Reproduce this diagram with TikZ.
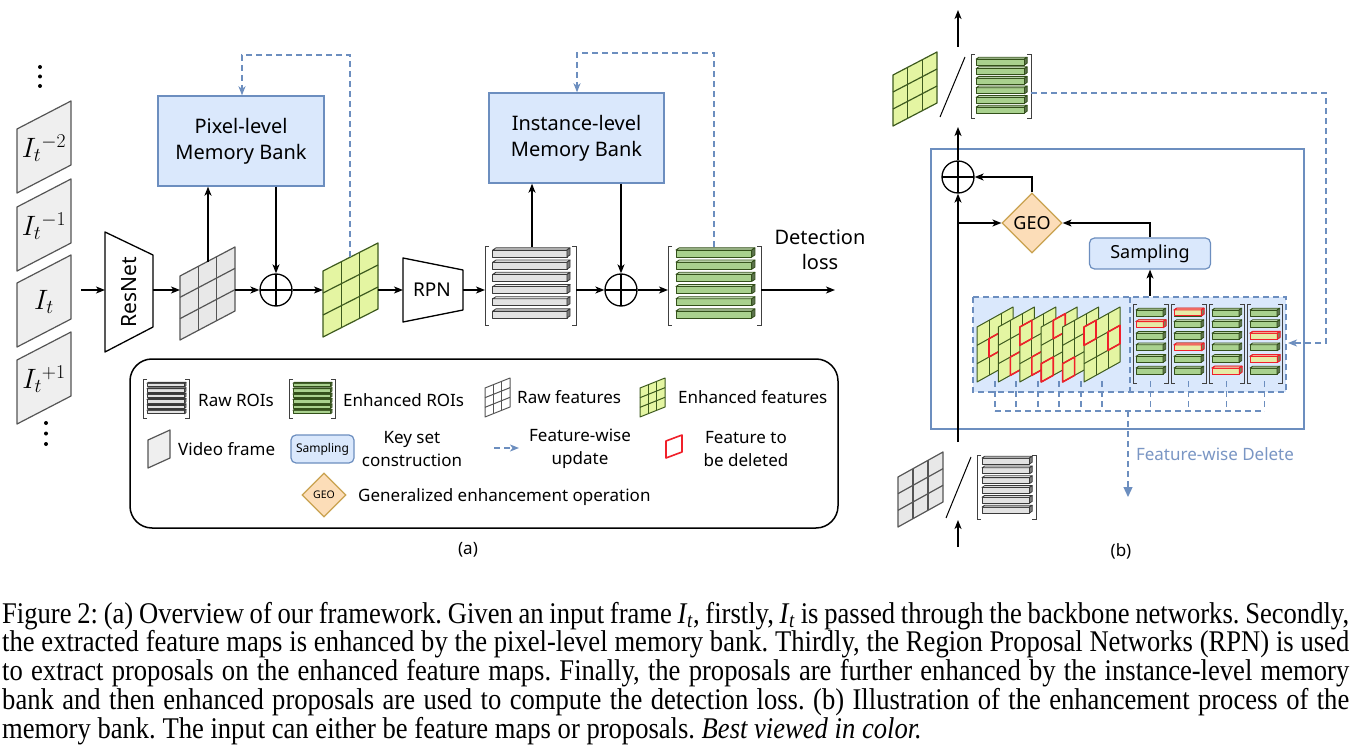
\RequirePackage{fix-cm}
\documentclass[tikz,border=0pt]{standalone}
\usepackage{graphicx}
\usepackage{fontspec}
\setmainfont{Liberation Serif}
\newfontfamily\dgfont{Noto Sans}
\usetikzlibrary{arrows.meta,shapes.geometric}
\definecolor{bluefill}{HTML}{DAE8FC}
\definecolor{blueline}{HTML}{6C8EBF}
\definecolor{bluetext}{HTML}{7A96C4}
\definecolor{enhfill}{HTML}{E4F5A2}
\definecolor{enhline}{HTML}{3D5A1E}
\definecolor{rawfill}{HTML}{E8E8E8}
\definecolor{rawline}{HTML}{555555}
\definecolor{rawbar}{HTML}{E2E2E2}
\definecolor{rawbarline}{HTML}{3A3A3A}
\definecolor{barg}{HTML}{A9D18E}
\definecolor{barline}{HTML}{33501A}
\definecolor{redbar}{HTML}{E6EBA6}
\definecolor{geofill}{HTML}{FCDDB8}
\definecolor{geoline}{HTML}{C9A24F}
\definecolor{framefill}{HTML}{EFEFEF}
\definecolor{frameline}{HTML}{555555}
\definecolor{delred}{HTML}{F0202A}

\newcommand\para[6]{\draw[#6] (#1,#2) -- ++(#3,-#5) -- ++(0,#4) -- ++(-#3,#5) -- cycle;}
\newcommand\fgrid[8]{%
  \draw[fill=#6,draw=#7,line width=#8,line join=round] (#1,#2) -- ++(#3,-#5) -- ++(0,#4) -- ++(-#3,#5) -- cycle;
  \foreach \i in {1,2}{%
    \draw[draw=#7,line width=#8] ({#1+\i*#3/3},{#2-\i*#5/3}) -- ++(0,#4);
    \draw[draw=#7,line width=#8] ({#1},{#2+\i*#4/3}) -- ++(#3,-#5);
  }%
}
\newcommand\redcell[7]{%
  \draw[delred,line width=1.6pt,line join=round] ({#1+#6*#3/3},{#2-#6*#5/3+#7*#4/3}) -- ++({#3/3},{-#5/3}) -- ++(0,{#4/3}) -- ++({-#3/3},{#5/3}) -- cycle;
}
\newcommand\roibar[7]{%
  \pgfmathsetmacro\rbd{0.45*#4}\pgfmathsetmacro\rbe{0.3*#4}%
  \draw[fill=#5,draw=#6,line width=#7,line join=round] ({#1},{#3-#4/2}) rectangle ({#2-\rbd},{#3+#4/2});
  \draw[fill=#5!60!white,draw=#6,line width=#7,line join=round] ({#1},{#3-#4/2}) -- ({#1+\rbd},{#3-#4/2-\rbe}) -- ({#2},{#3-#4/2-\rbe}) -- ({#2-\rbd},{#3-#4/2}) -- cycle;
  \draw[fill=#5!55!black,draw=#6,line width=#7,line join=round] ({#2-\rbd},{#3-#4/2}) -- ({#2},{#3-#4/2-\rbe}) -- ({#2},{#3+#4/2-\rbe}) -- ({#2-\rbd},{#3+#4/2}) -- cycle;
}
\newcommand\roigroup[9]{%
  \draw[brk] ({#1+4},#3) -- (#1,#3) -- (#1,#4) -- ({#1+4},#4);
  \draw[brk] ({#2-4},#3) -- (#2,#3) -- (#2,#4) -- ({#2-4},#4);
  \foreach \k in {0,...,5}{\roibar{#1+0.085*(#2-#1)}{#2-0.065*(#2-#1)}{#5+\k*#6}{#7}{#8}{#9}{0.8pt}}%
}
\newcommand\capIt{\textit{I}\kern-0.5pt\textsubscript{\textit{t}}}

\begin{document}
\begin{tikzpicture}[x=1pt,y=-1pt,
  arr/.style={-{Stealth[length=9pt,width=7pt,inset=2.5pt]},line width=1.3pt},
  darr/.style={-{Stealth[length=9pt,width=7pt,inset=2.5pt]},line width=1.3pt,draw=blueline,dash pattern=on 6pt off 4pt},
  dsh/.style={line width=1.3pt,draw=blueline,dash pattern=on 6pt off 4pt},
  bank/.style={draw=blueline,fill=bluefill,line width=1.4pt,align=center,font=\dgfont\fontsize{20}{26}\selectfont},
  oplus/.style={circle,draw,line width=1.3pt,minimum size=32pt,inner sep=0pt,
    path picture={\draw[line width=1.3pt] (path picture bounding box.north) -- (path picture bounding box.south) (path picture bounding box.west) -- (path picture bounding box.east);}},
  geo/.style={diamond,draw=geoline,fill=geofill,line width=1.2pt,inner sep=0pt,aspect=1},
  samp/.style={rounded corners=5pt,draw=blueline,fill=bluefill,line width=1.2pt,inner sep=1pt},
  lbl/.style={font=\dgfont\fontsize{17}{23}\selectfont,inner sep=0pt},
  mlbl/.style={font=\dgfont\fontsize{20}{25}\selectfont,inner sep=0pt,align=center},
  flab/.style={font=\fontsize{28}{28}\selectfont,inner sep=0pt},
  frm/.style={fill=framefill,draw=frameline,line width=1.2pt,line join=round},
  trap/.style={draw,fill=white,line width=1.3pt,line join=round},
  brk/.style={draw=black!75,line width=1pt},
  dot/.style={fill=black},
]
\useasboundingbox (0,0) rectangle (1353,754);
\fill[white] (0,0) rectangle (1353,754);

% ---------- (a) input frames ----------
\fill[dot] (40,67) circle[radius=2pt] (40,76.5) circle[radius=2pt] (40,86) circle[radius=2pt];
\para{17}{129}{54}{64}{28}{frm}
\para{17}{207}{54}{64}{28}{frm}
\para{17}{283}{54}{64}{28}{frm}
\para{17}{360}{54}{64}{28}{frm}
\node[flab] (f1) at (44,148) {$I_{t}{}^{-2}$};
\node[flab] (f2) at (44,226) {$I_{t}{}^{-1}$};
\node[flab] (f3) at (44,302) {$I_{t}$};
\node[flab] (f4) at (44,379) {$I_{t}{}^{+1}$};
\fill[dot] (46,423) circle[radius=2pt] (46,433.5) circle[radius=2pt] (46,444) circle[radius=2pt];

% ---------- (a) pixel branch ----------
\coordinate (fo) at (81,290);
\draw[trap] (105,232) -- (153,255) -- (153,327) -- (105,352) -- cycle;
\node[rotate=90,font=\dgfont\fontsize{21}{21}\selectfont,inner sep=0pt] (resnet) at (129,292) {ResNet};
\coordinate (resW) at (105,290);
\coordinate (resE) at (153,290);
\draw[arr] (fo) -- (resW);

\fgrid{180}{276}{55}{64}{29}{rawfill}{rawline}{1.2pt}
\coordinate (rgW) at (180,290);
\coordinate (rgE) at (235,290);
\coordinate (rgN) at (208,262);
\draw[arr] (resE) -- (rgW);

\node[bank,minimum width=166pt,minimum height=90pt] (pbank) at (241,141) {Pixel-level\\Memory Bank};
\node[oplus] (op1) at (276,290) {};
\draw[arr] (rgN) -- (rgN |- pbank.south);
\draw[arr] (pbank.south -| op1) -- (op1.north);
\draw[arr] (rgE) -- (op1.west);

\fgrid{323}{271}{55}{66}{28}{enhfill}{enhline}{1.2pt}
\coordinate (egW) at (323,290);
\coordinate (egE) at (378,290);
\coordinate (egN) at (350,257);
\draw[arr] (op1.east) -- (egW);
\coordinate (pbk) at (242,55);
\draw[darr] (egN) |- (pbk) -- (pbk |- pbank.north);

% ---------- (a) instance branch ----------
\draw[trap] (403,258) -- (463,270) -- (463,310) -- (403,322) -- cycle;
\node[font=\dgfont\fontsize{19}{19}\selectfont,inner sep=0pt] (rpn) at (432,290) {RPN};
\coordinate (rpnW) at (403,290);
\coordinate (rpnE) at (463,290);
\draw[arr] (egE) -- (rpnW);

\roigroup{485}{576}{247}{325}{253.5}{12.2}{7}{rawbar}{rawbarline}
\coordinate (rrW) at (485,290);
\coordinate (rrE) at (576,290);
\coordinate (rrN) at (532,247);
\draw[arr] (rpnE) -- (rrW);

\node[bank,minimum width=175pt,minimum height=90pt] (ibank) at (576.5,138) {Instance-level\\Memory Bank};
\node[oplus] (op2) at (621,290) {};
\draw[arr] (rrN) -- (rrN |- ibank.south);
\draw[arr] (ibank.south -| op2) -- (op2.north);
\draw[arr] (rrE) -- (op2.west);

\roigroup{668}{761}{247}{325}{253.5}{12.2}{7}{barg}{barline}
\coordinate (erW) at (668,290);
\coordinate (erE) at (761,290);
\coordinate (erN) at (714,247);
\draw[arr] (op2.east) -- (erW);
\coordinate (ibk) at (577,53);
\draw[darr] (erN) |- (ibk) -- (ibk |- ibank.north);
\coordinate (det) at (835,290);
\draw[arr] (erE) -- (det);
\node[mlbl] (detl) at (820,250) {Detection\\loss};

% ---------- (a) legend ----------
\draw[line width=1.5pt,rounded corners=22pt] (130,359) rectangle (838,528);
\roigroup{143}{189}{379}{418}{385}{5.4}{3.4}{rawbar}{rawbarline}
\node[lbl,anchor=west] (l1) at (198,400) {Raw ROIs};
\roigroup{289}{335}{379}{418}{385}{5.4}{3.4}{barg}{barline}
\node[lbl,anchor=west] (l2) at (343,400) {Enhanced ROIs};
\fgrid{485}{388}{25}{29}{10}{white}{rawline}{1pt}
\node[lbl,anchor=west] (l3) at (517,397) {Raw features};
\fgrid{640}{388}{25}{29}{10}{enhfill}{enhline}{1pt}
\node[lbl,anchor=west] (l4) at (678,397) {Enhanced features};
\para{148}{440}{22}{28}{10}{frm}
\node[lbl,anchor=west] (l5) at (178,449) {Video frame};
\node[samp,minimum width=63pt,minimum height=28pt,font=\dgfont\fontsize{12}{12}\selectfont] (lsamp) at (322.5,449) {Sampling};
\node[lbl,align=center] (l6) at (412,449) {Key set\\construction};
\coordinate (lda) at (494,448);
\coordinate (ldb) at (519,448);
\draw[darr] (lda) -- (ldb);
\node[lbl,align=center] (l7) at (580,449) {Feature-wise\\update};
\draw[delred,line width=1.6pt,line join=round] (666,441) -- ++(16,-6) -- ++(0,17) -- ++(-16,6) -- cycle;
\node[lbl,align=center] (l8) at (746,449) {Feature to\\be deleted};
\node[geo,minimum width=44pt,minimum height=44pt,font=\dgfont\fontsize{10.5}{10.5}\selectfont] (lgeo) at (324,495) {GEO};
\node[lbl,anchor=west] (l9) at (358,497) {Generalized enhancement operation};
\node[lbl] (la) at (468,550) {(a)};

% ---------- (b) ----------
\draw[line width=1.5pt,draw=blueline] (931,149) rectangle (1304,429);
\draw[dsh,fill=bluefill] (973,297) rectangle (1286,392);
\draw[dsh] (1130,297) -- (1130,392);

% stacked feature maps
\fgrid{977}{327}{36}{55}{20}{enhfill}{enhline}{1pt}
\redcell{977}{327}{36}{55}{20}{1}{1}
\fgrid{998.4}{327}{36}{55}{20}{enhfill}{enhline}{1pt}
\redcell{998.4}{327}{36}{55}{20}{1}{2}
\fgrid{1019.8}{327}{36}{55}{20}{enhfill}{enhline}{1pt}
\redcell{1019.8}{327}{36}{55}{20}{0}{0}
\redcell{1019.8}{327}{36}{55}{20}{1}{2}
\fgrid{1041.2}{327}{36}{55}{20}{enhfill}{enhline}{1pt}
\redcell{1041.2}{327}{36}{55}{20}{1}{0}
\redcell{1041.2}{327}{36}{55}{20}{0}{2}
\fgrid{1062.6}{327}{36}{55}{20}{enhfill}{enhline}{1pt}
\redcell{1062.6}{327}{36}{55}{20}{0}{2}
\fgrid{1084}{327}{36}{55}{20}{enhfill}{enhline}{1pt}
\redcell{1084}{327}{36}{55}{20}{0}{0}
\redcell{1084}{327}{36}{55}{20}{2}{1}

% stacked ROI groups
\roigroup{1133}{1168}{305}{383}{313}{11.6}{6}{barg}{barline}
\roigroup{1171}{1206}{305}{383}{313}{11.6}{6}{barg}{barline}
\roigroup{1209}{1244}{305}{383}{313}{11.6}{6}{barg}{barline}
\roigroup{1247}{1282}{305}{383}{313}{11.6}{6}{barg}{barline}
\roibar{1136}{1166}{324.6}{6}{redbar}{delred}{1pt}
\roibar{1174}{1204}{313}{6}{redbar}{delred}{1pt}
\roibar{1174}{1204}{347.8}{6}{redbar}{delred}{1pt}
\roibar{1212}{1242}{371}{6}{redbar}{delred}{1pt}
\roibar{1250}{1280}{336.2}{6}{redbar}{delred}{1pt}
\roibar{1250}{1280}{359.4}{6}{redbar}{delred}{1pt}

% delete ticks
\foreach \x in {995,1016,1038,1059,1081,1102,1150.5,1188.5,1226.5,1264.5}{\draw[dsh] (\x,381) -- (\x,411);}
\draw[dsh] (995,411) -- (1264.5,411);
\coordinate (dl1) at (1128,411);
\coordinate (dl2) at (1128,497);
\draw[dsh,-{Triangle[length=10pt,width=9pt]}] (dl1) -- (dl2);
\node[font=\dgfont\fontsize{17}{17}\selectfont,text=bluetext,inner sep=0pt] (fwd) at (1215,454) {Feature-wise Delete};

% operations
\node[oplus] (opb) at (958,177) {};
\node[geo,minimum width=60pt,minimum height=60pt,font=\dgfont\fontsize{18}{18}\selectfont] (geo) at (1032,223) {GEO};
\node[samp,minimum width=121pt,minimum height=31pt,font=\dgfont\fontsize{18}{18}\selectfont] (samp) at (1150,253.5) {Sampling};
\coordinate (bin) at (958,442);
\coordinate (bbr) at (958,223);
\coordinate (sin) at (1150,296);
\coordinate (bout) at (958,127);
\draw[line width=1.3pt] (bin) -- (bbr);
\draw[arr] (bbr) -- (opb.south);
\draw[arr] (bbr) -- (geo.west);
\draw[arr] (sin) -- (samp.south);
\draw[arr] (samp.north) |- (geo.east);
\draw[arr] (geo.north) |- (opb.east);
\draw[arr] (opb.north) -- (bout);

% output
\fgrid{893}{75}{44}{51}{23}{enhfill}{enhline}{1.2pt}
\draw[line width=1pt] (940,117) -- (965,57);
\roigroup{971}{1031}{55}{119}{62}{9.6}{6}{barg}{barline}
\coordinate (to1) at (958,47);
\coordinate (to2) at (958,10);
\draw[arr] (to1) -- (to2);
\coordinate (fb1) at (1031,93);
\coordinate (fb2) at (1326,343);
\coordinate (fb3) at (1288,343);
\draw[darr] (fb1) -| (fb2) -- (fb3);

% input
\fgrid{898}{477}{45}{50}{25}{rawfill}{rawline}{1.2pt}
\draw[line width=1pt] (946,518) -- (971,457);
\roigroup{977}{1036}{455}{519}{461}{9.8}{6}{rawbar}{rawbarline}
\coordinate (ti1) at (958,547);
\coordinate (ti2) at (958,520);
\draw[arr] (ti1) -- (ti2);
\node[lbl] (lb) at (1121,551) {(b)};

% ---------- caption ----------
\node[anchor=base west,inner sep=0pt] (cap) at (2,623) {\scalebox{1}[1.13]{\parbox[t]{1347pt}{\fontsize{26.6}{22.88}\selectfont\frenchspacing Figure 2: (a) Overview of our framework. Given an input frame \capIt, firstly, \capIt\ is passed through the backbone networks. Secondly,\linebreak
the extracted feature maps is enhanced by the pixel-level memory bank. Thirdly, the Region Proposal Networks (RPN) is used\linebreak
to extract proposals on the enhanced feature maps. Finally, the proposals are further enhanced by the instance-level memory\linebreak
bank and then enhanced proposals are used to compute the detection loss. (b) Illustration of the enhancement process of the\linebreak
memory bank. The input can either be feature maps or proposals. \textit{Best viewed in color.}}}};
\end{tikzpicture}
\end{document}
